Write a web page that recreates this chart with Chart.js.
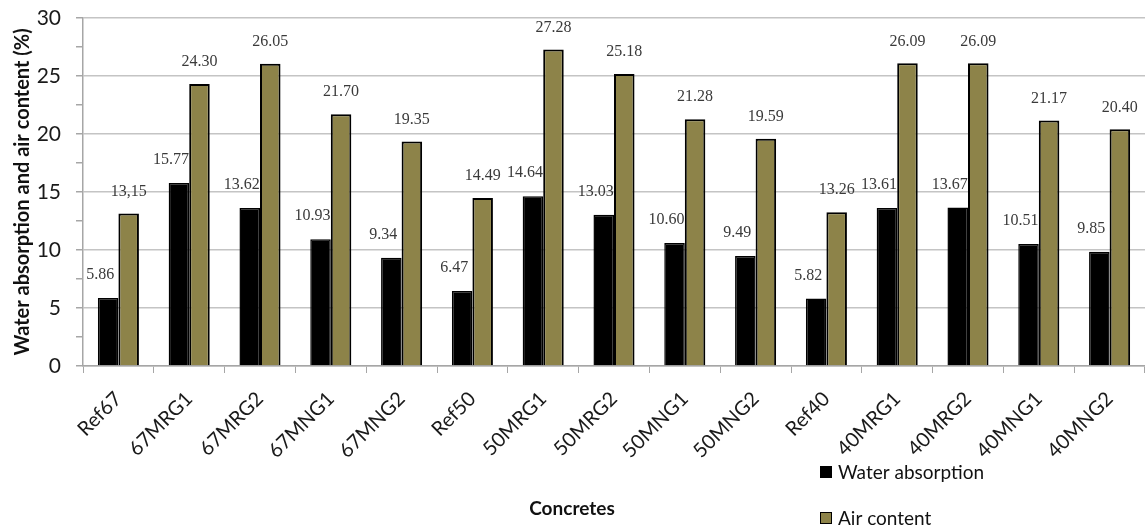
<!DOCTYPE html>
<html>
<head>
<meta charset="utf-8">
<script src="https://cdn.jsdelivr.net/npm/chart.js@4.4.1/dist/chart.umd.min.js"></script>
<style>
  html, body { margin: 0; padding: 0; background: #fff; }
  #wrap { width: 1145px; height: 528px; position: relative; }
</style>
</head>
<body>
<div id="wrap"><canvas id="c"></canvas></div>
<script>
// Concrete mixes and measured properties (%)
const categories = ['Ref67', '67MRG1', '67MRG2', '67MNG1', '67MNG2', 'Ref50', '50MRG1', '50MRG2',
                    '50MNG1', '50MNG2', 'Ref40', '40MRG1', '40MRG2', '40MNG1', '40MNG2'];
const waterAbsorption = [5.86, 15.77, 13.62, 10.93, 9.34, 6.47, 14.64, 13.03, 10.60, 9.49, 5.82, 13.61, 13.67, 10.51, 9.85];
const airContent = [13.15, 24.30, 26.05, 21.70, 19.35, 14.49, 27.28, 25.18, 21.28, 19.59, 13.26, 26.09, 26.09, 21.17, 20.40];
const waterLabels = ['5.86', '15.77', '13.62', '10.93', '9.34', '6.47', '14.64', '13.03', '10.60', '9.49', '5.82', '13.61', '13.67', '10.51', '9.85'];
const airLabels = ['13,15', '24.30', '26.05', '21.70', '19.35', '14.49', '27.28', '25.18', '21.28', '19.59', '13.26', '26.09', '26.09', '21.17', '20.40'];
const yMajorStep = 5;
const xTitle = 'Concretes';

const SANS = 'Lato, "Liberation Sans", sans-serif';
const SERIF = '"Liberation Serif", "DejaVu Serif", serif';
const AXIS_GRAY = '#a6a6a6';

function drawBarLabels(chart, datasetIndex, texts, dx, dy) {
  const meta = chart.getDatasetMeta(datasetIndex);
  const ctx = chart.ctx;
  ctx.save();
  ctx.font = '16px ' + SERIF;
  ctx.fillStyle = '#3a3a3a';
  ctx.textAlign = 'center';
  ctx.textBaseline = 'middle';
  meta.data.forEach((bar, i) => ctx.fillText(texts[i], bar.x + dx, bar.y - dy));
  ctx.restore();
}

// Water labels go under the air bars; air labels on top of everything
const barLabels = {
  id: 'barLabels',
  beforeDatasetDraw(chart, args) {
    if (args.index === 1) drawBarLabels(chart, 0, waterLabels, -8, 23);
  },
  afterDatasetsDraw(chart) {
    drawBarLabels(chart, 1, airLabels, 0, 22);
  }
};

// Axis title and stacked legend below the plot
const bottomAnnotations = {
  id: 'bottomAnnotations',
  afterDraw(chart) {
    const ctx = chart.ctx;
    const area = chart.chartArea;
    ctx.save();

    ctx.font = 'bold 19px ' + SANS;
    ctx.fillStyle = '#111';
    ctx.textAlign = 'center';
    ctx.textBaseline = 'middle';
    ctx.fillText(xTitle, (area.left + area.right) / 2 - 42, area.bottom + 143);

    const x = area.right - 325;
    const rows = [area.bottom + 106, area.bottom + 152];
    ctx.font = '19px ' + SANS;
    ctx.textAlign = 'left';
    chart.data.datasets.forEach((ds, i) => {
      const y = rows[i];
      ctx.fillStyle = ds.backgroundColor;
      ctx.fillRect(x, y - 6, 12, 12);
      ctx.strokeStyle = '#000';
      ctx.lineWidth = 1;
      ctx.strokeRect(x + 0.5, y - 5.5, 11, 11);
      ctx.fillStyle = '#111';
      ctx.fillText(ds.label, x + 18, y + 1);
    });
    ctx.restore();
  }
};

new Chart(document.getElementById('c'), {
  type: 'bar',
  data: {
    labels: categories,
    datasets: [
      {
        label: 'Water absorption',
        data: waterAbsorption,
        backgroundColor: '#000000',
        borderColor: '#000000',
        borderWidth: 1.5,
        barPercentage: 1.0,
        categoryPercentage: 0.58
      },
      {
        label: 'Air content',
        data: airContent,
        backgroundColor: '#8d8349',
        borderColor: '#000000',
        borderWidth: 2,
        barPercentage: 1.0,
        categoryPercentage: 0.58
      }
    ]
  },
  options: {
    responsive: true,
    maintainAspectRatio: false,
    animation: false,
    layout: { padding: { top: 18, left: 8, right: 0, bottom: 0 } },
    plugins: {
      legend: { display: false },
      tooltip: { enabled: false }
    },
    scales: {
      x: {
        afterFit: scale => { scale.height = 162; },
        grid: {
          offset: true,
          drawOnChartArea: false,
          tickLength: 7,
          tickColor: AXIS_GRAY
        },
        border: { color: AXIS_GRAY, width: 1.5 },
        ticks: {
          autoSkip: false,
          maxRotation: 45,
          minRotation: 45,
          padding: 14,
          color: '#1a1a1a',
          font: { family: SANS, size: 20 }
        }
      },
      y: {
        min: 0,
        max: 30,
        afterFit: scale => {
          scale.width = 75;
          scale.paddingTop = 0;
          scale.paddingBottom = 0;
        },
        ticks: {
          stepSize: yMajorStep / 2,
          padding: 15,
          color: '#1a1a1a',
          font: { family: SANS, size: 21 },
          callback: v => (v % yMajorStep === 0 ? v : '')
        },
        grid: {
          color: c => (c.tick && c.tick.value % yMajorStep === 0 ? '#c4c4c4' : 'rgba(0,0,0,0)'),
          lineWidth: 1.5,
          tickLength: 7,
          tickColor: AXIS_GRAY
        },
        border: { color: AXIS_GRAY, width: 1.5 },
        title: {
          display: true,
          text: 'Water absorption and air content (%)',
          color: '#111',
          font: { family: SANS, size: 20, weight: 'bold' },
          padding: { top: 3, bottom: 2 }
        }
      }
    }
  },
  plugins: [barLabels, bottomAnnotations]
});
</script>
</body>
</html>
